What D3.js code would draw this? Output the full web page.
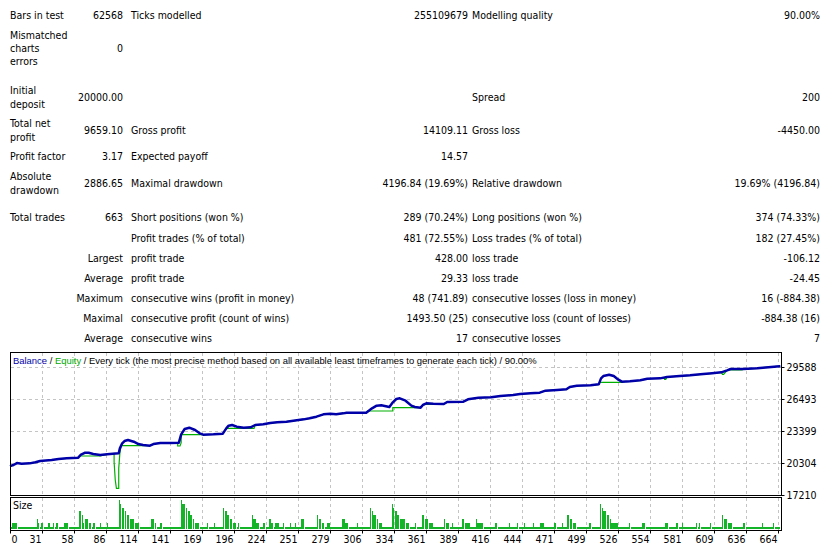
<!DOCTYPE html>
<html>
<head>
<meta charset="utf-8">
<title>Strategy Tester Report</title>
<style>
  body { margin: 0; background: #fff; }
  svg text { font-family: 'DejaVu Sans Condensed', 'DejaVu Sans', sans-serif; font-size: 10.5px; fill: #000; }
  svg text.title { font-family: 'Liberation Sans', 'DejaVu Sans Condensed', sans-serif; font-size: 11px; }
</style>
</head>
<body>
<script src="https://cdn.jsdelivr.net/npm/d3@7/dist/d3.min.js"></script>
<script>

// report table: label, value, label, value, label, value
var reportRows = [
  ["Bars in test", "62568", "Ticks modelled", "255109679", "Modelling quality", "90.00%"],
  ["Mismatched\ncharts\nerrors", "0", "", "", "", ""],
  ["Initial\ndeposit", "20000.00", "", "", "Spread", "200"],
  ["Total net\nprofit", "9659.10", "Gross profit", "14109.11", "Gross loss", "-4450.00"],
  ["Profit factor", "3.17", "Expected payoff", "14.57", "", ""],
  ["Absolute\ndrawdown", "2886.65", "Maximal drawdown", "4196.84 (19.69%)", "Relative drawdown", "19.69% (4196.84)"],
  ["Total trades", "663", "Short positions (won %)", "289 (70.24%)", "Long positions (won %)", "374 (74.33%)"],
  ["", "", "Profit trades (% of total)", "481 (72.55%)", "Loss trades (% of total)", "182 (27.45%)"],
  ["", "Largest", "profit trade", "428.00", "loss trade", "-106.12"],
  ["", "Average", "profit trade", "29.33", "loss trade", "-24.45"],
  ["", "Maximum", "consecutive wins (profit in money)", "48 (741.89)", "consecutive losses (loss in money)", "16 (-884.38)"],
  ["", "Maximal", "consecutive profit (count of wins)", "1493.50 (25)", "consecutive loss (count of losses)", "-884.38 (16)"],
  ["", "Average", "consecutive wins", "17", "consecutive losses", "7"]
];

// [trade #, money]
var balance = [
  [0,20000],[3,20110],[6,20300],[10,20240],[17,20270],[22,20370],[26,20500],[36,20595],
  [42,20690],[49,20755],[59,20820],[61,21080],[65,21300],[68,21300],[72,21175],[78,21080],
  [84,21145],[89,21205],[94,21240],[95,21720],[97,22205],[99,22430],[102,22530],[107,22365],
  [111,22140],[115,22045],[121,21980],[124,22140],[130,22240],[138,22240],[146,22270],[148,23075],
  [151,23590],[155,23720],[160,23495],[164,23175],[167,23045],[176,23075],[184,23140],[187,23655],
  [189,23915],[192,23980],[196,23820],[202,23720],[208,23755],[212,23980],[219,24045],[225,24170],
  [231,24235],[239,24300],[248,24430],[254,24525],[259,24625],[265,24785],[271,25010],[277,25075],
  [282,25010],[288,25105],[291,25170],[308,25170],[313,25590],[317,25850],[321,25880],[328,25720],
  [331,26170],[334,26495],[337,26560],[342,26330],[347,25850],[350,25720],[355,25655],[357,25915],
  [360,26075],[366,26040],[375,26010],[378,26205],[392,26235],[396,26460],[405,26620],[416,26655],
  [424,26785],[435,26880],[441,26975],[450,27040],[458,27105],[463,27300],[473,27365],[481,27430],
  [484,27655],[490,27780],[502,27815],[509,27910],[511,28490],[513,28715],[518,28845],[522,28715],
  [526,28365],[529,28170],[536,28200],[545,28300],[551,28460],[562,28490],[568,28620],[579,28715],
  [588,28780],[597,28880],[607,28975],[615,29070],[620,29265],[623,29395],[634,29395],[646,29460],
  [651,29525],[663,29640],[666,29659]
];

var equity = [
  [0,20000],[3,20110],[6,20300],[10,20240],[17,20270],[22,20370],[26,20500],[36,20595],
  [42,20690],[49,20755],[59,20820],[60,20980],[78,20980],[84,21145],[89,21205],[90,21220],
  [90,20430],[91,18660],[92,17860],[94,17860],[94,19790],[95,21240],[96,21980],[121,21980],
  [124,22140],[130,22240],[138,22240],[145,22270],[145,21950],[147,21950],[148,22270],[148,23045],
  [167,23045],[176,23075],[184,23140],[187,23655],[211,23655],[212,23980],[219,24045],[225,24170],
  [231,24235],[239,24300],[248,24430],[254,24525],[259,24625],[265,24785],[271,25010],[277,25075],
  [282,25010],[288,25105],[291,25170],[308,25170],[309,25335],[331,25335],[331,25655],[355,25655],
  [357,25915],[360,26000],[375,25980],[378,26205],[392,26235],[396,26460],[405,26620],[416,26655],
  [424,26785],[435,26880],[441,26975],[450,27040],[458,27105],[463,27300],[473,27365],[481,27430],
  [484,27655],[490,27780],[502,27815],[509,27910],[510,28105],[529,28105],[529,28170],[536,28200],
  [545,28300],[551,28460],[562,28490],[566,28560],[566,28400],[567,28400],[568,28620],[579,28715],
  [588,28780],[597,28880],[607,28975],[615,29070],[616,28880],[617,28880],[620,29265],[621,29297],
  [633,29297],[634,29395],[646,29460],[651,29525],[663,29640],[666,29659]
];

// [first trade #, lots] - each step holds until the next one
var sizeSteps = [
  [0,0.1],[2,0.3],[7,0.1],[23,0.5],[24,0.3],[26,0.1],[27,0.3],[29,0.1],[33,0.3],[35,0.1],
  [37,0.3],[39,0.1],[40,0.3],[42,0.1],[47,0.3],[51,0.1],[60,0.9],[62,0.7],[63,0.3],[65,0.5],
  [68,0.3],[71,0.1],[72,0.3],[74,0.1],[78,0.3],[79,0.1],[84,0.3],[85,0.1],[94,1.45],[95,1.25],
  [97,1.05],[99,0.9],[101,0.7],[104,0.5],[108,0.3],[112,0.1],[122,0.5],[125,0.3],[127,0.1],[130,0.3],
  [132,0.1],[148,1.45],[149,1.25],[152,1.05],[154,0.9],[156,0.7],[158,0.5],[160,0.3],[164,0.1],[170,0.3],
  [172,0.1],[176,0.3],[177,0.1],[184,1.05],[186,0.9],[188,0.7],[190,0.5],[193,0.3],[196,0.1],[197,0.3],
  [199,0.1],[209,0.7],[210,0.5],[213,0.3],[216,0.1],[219,0.3],[221,0.1],[224,0.5],[226,0.3],[228,0.1],
  [229,0.3],[233,0.1],[236,0.3],[238,0.1],[242,0.3],[243,0.1],[246,0.3],[247,0.1],[252,0.5],[255,0.1],
  [265,0.7],[267,0.5],[270,0.3],[272,0.1],[274,0.3],[277,0.1],[287,0.5],[290,0.3],[293,0.1],[300,0.3],
  [301,0.1],[311,1.05],[313,0.9],[314,0.7],[317,0.5],[319,0.3],[322,0.1],[330,1.25],[331,1.05],[333,0.9],
  [335,0.7],[337,0.5],[342,0.3],[346,0.1],[350,0.3],[352,0.1],[356,0.7],[359,0.5],[362,0.3],[366,0.1],
  [375,0.5],[377,0.3],[380,0.1],[382,0.3],[383,0.1],[391,0.5],[393,0.3],[398,0.1],[403,0.5],[404,0.3],
  [410,0.1],[419,0.3],[422,0.1],[431,0.3],[432,0.1],[438,0.3],[440,0.1],[444,0.3],[445,0.1],[452,0.3],
  [453,0.1],[458,0.3],[462,0.1],[470,0.3],[473,0.1],[477,0.3],[478,0.1],[482,0.7],[484,0.5],[487,0.3],
  [490,0.1],[501,0.3],[503,0.1],[510,1.25],[512,1.05],[513,0.9],[516,0.7],[519,0.5],[520,0.3],[526,0.1],
  [535,0.3],[537,0.1],[546,0.3],[550,0.1],[566,0.3],[570,0.1],[576,0.3],[578,0.1],[581,0.3],[582,0.1],
  [593,0.3],[595,0.1],[596,0.3],[597,0.1],[605,0.3],[607,0.1],[616,0.7],[617,0.5],[621,0.3],[625,0.1],
  [634,0.3],[636,0.1],[650,0.3],[651,0.1],[660,0.3],[661,0.1],[666,0]
];

var xTickLabels = ["0","31","58","86","114","141","169","196","224","251","279","306","334",
                   "361","389","416","444","471","499","526","554","581","609","636","664"];
var yTicks = [17210, 20304, 23399, 26493, 29588];

var chartTitle = [
  ["Balance", "#0000a8"], [" / ", "#000"], ["Equity", "#00a800"],
  [" / Every tick (the most precise method based on all available least timeframes to generate each tick) / 90.00%", "#000"]
];

var blue = "#0000a8", green = "#00b000", barGreen = "#14b428", gridCol = "#c4c4c4";

var svg = d3.select("body").append("svg")
    .attr("width", 840).attr("height", 545)
    .style("display", "block");

svg.append("rect").attr("width", 840).attr("height", 545).attr("fill", "#fff");

// ---- report table
var rowY = [15, 48, 97, 130, 156, 183, 217, 238, 258, 278, 298, 318, 338];
var cols = [[10, "start"], [123, "end"], [131, "start"], [468, "end"], [472, "start"], [820, "end"]];

reportRows.forEach(function(row, r){
  row.forEach(function(cell, c){
    if (!cell) return;
    var lines = cell.split("\n");
    var t = svg.append("text")
        .attr("x", cols[c][0])
        .attr("text-anchor", cols[c][1]);
    lines.forEach(function(l, i){
      t.append("tspan")
        .attr("x", cols[c][0])
        .attr("y", rowY[r] + 4 + (i - (lines.length - 1) / 2) * 13.4)
        .text(l);
    });
  });
});

// ---- charts
var L = 10, R = 781, T = 352, B = 495, sT = 497, sB = 530;

var x = d3.scaleLinear().domain([0, 664]).range([L, 778]);
var gx = d3.scaleLinear().domain([0, xTickLabels.length - 1]).range([L, 778]);
var y = d3.scaleLinear().domain([17210, 29588]).range([B, 367]);
var ys = d3.scaleLinear().domain([0, 1.5]).range([sB - 1, sB - 31]);

// grid
var grid = svg.append("g")
    .attr("stroke", gridCol)
    .attr("stroke-dasharray", "3,3")
    .attr("shape-rendering", "crispEdges");

grid.selectAll("line.v")
  .data(d3.range(1, xTickLabels.length))
  .enter().append("line")
    .attr("x1", function(i){ return Math.round(gx(i)) + 0.5; })
    .attr("x2", function(i){ return Math.round(gx(i)) + 0.5; })
    .attr("y1", T + 1).attr("y2", B);

grid.selectAll("line.vs")
  .data(d3.range(1, xTickLabels.length))
  .enter().append("line")
    .attr("x1", function(i){ return Math.round(gx(i)) + 0.5; })
    .attr("x2", function(i){ return Math.round(gx(i)) + 0.5; })
    .attr("y1", sT + 1).attr("y2", sB);

grid.selectAll("line.h")
  .data(yTicks.slice(1))
  .enter().append("line")
    .attr("x1", L + 1).attr("x2", R)
    .attr("y1", function(d){ return Math.round(y(d)) + 0.5; })
    .attr("y2", function(d){ return Math.round(y(d)) + 0.5; });

// lines
var line = d3.line()
    .x(function(d){ return x(d[0]); })
    .y(function(d){ return y(d[1]); });

svg.append("path")
    .datum(equity)
    .attr("fill", "none")
    .attr("stroke", green)
    .attr("stroke-width", 1.2)
    .attr("d", line);

svg.append("path")
    .datum(balance)
    .attr("fill", "none")
    .attr("stroke", blue)
    .attr("stroke-width", 2.5)
    .attr("stroke-linejoin", "round")
    .attr("d", line);

// title: shrink the font until the line is as wide as in the tester window
var title = svg.append("text").attr("class", "title")
    .attr("x", 13).attr("y", 364);
chartTitle.forEach(function(p){
  title.append("tspan").style("fill", p[1]).text(p[0]);
});
var tw = title.node().getComputedTextLength();
if (tw > 0) title.style("font-size", (11 * 524 / tw).toFixed(2) + "px");

// size bars
var steps = sizeSteps.slice(0, -1).map(function(d, i){
  return { t0: d[0], t1: sizeSteps[i + 1][0], lot: d[1] };
});

svg.append("g")
    .attr("fill", barGreen)
    .attr("shape-rendering", "crispEdges")
  .selectAll("rect")
  .data(steps)
  .enter().append("rect")
    .attr("x", function(d){ return x(d.t0); })
    .attr("width", function(d){
      var w = x(d.t1) - x(d.t0);
      return d.lot > 0.1 ? Math.max(1, w - 0.8) : w;
    })
    .attr("y", function(d){ return ys(d.lot); })
    .attr("height", function(d){ return ys(0) - ys(d.lot); });

svg.append("text").attr("x", 13).attr("y", 509).text("Size");

// frames
[[T, B], [sT, sB]].forEach(function(f){
  svg.append("rect")
    .attr("x", L + 0.5).attr("y", f[0] + 0.5)
    .attr("width", R - L).attr("height", f[1] - f[0])
    .attr("fill", "none").attr("stroke", "#000")
    .attr("shape-rendering", "crispEdges");
});

// axes
var yAxis = d3.axisRight(y).tickValues(yTicks).tickSize(3).tickPadding(2).tickFormat(d3.format("d"));
var ya = svg.append("g").attr("transform", "translate(" + (R + 0.5) + ",0)").call(yAxis);
ya.select(".domain").remove();
ya.selectAll("text").attr("font-family", null).attr("font-size", null);

var xAxis = d3.axisBottom(gx).tickValues(d3.range(xTickLabels.length)).tickSize(3).tickPadding(2)
    .tickFormat(function(i){ return xTickLabels[i]; });
var xa = svg.append("g").attr("transform", "translate(0," + (sB + 0.5) + ")").call(xAxis);
xa.select(".domain").remove();
xa.selectAll("text")
    .attr("font-family", null).attr("font-size", null)
    .attr("text-anchor", function(i){ return i === 0 ? "start" : "end"; })
    .attr("dx", function(i){ return i === 0 ? 1 : -1; });

</script>
</body>
</html>
